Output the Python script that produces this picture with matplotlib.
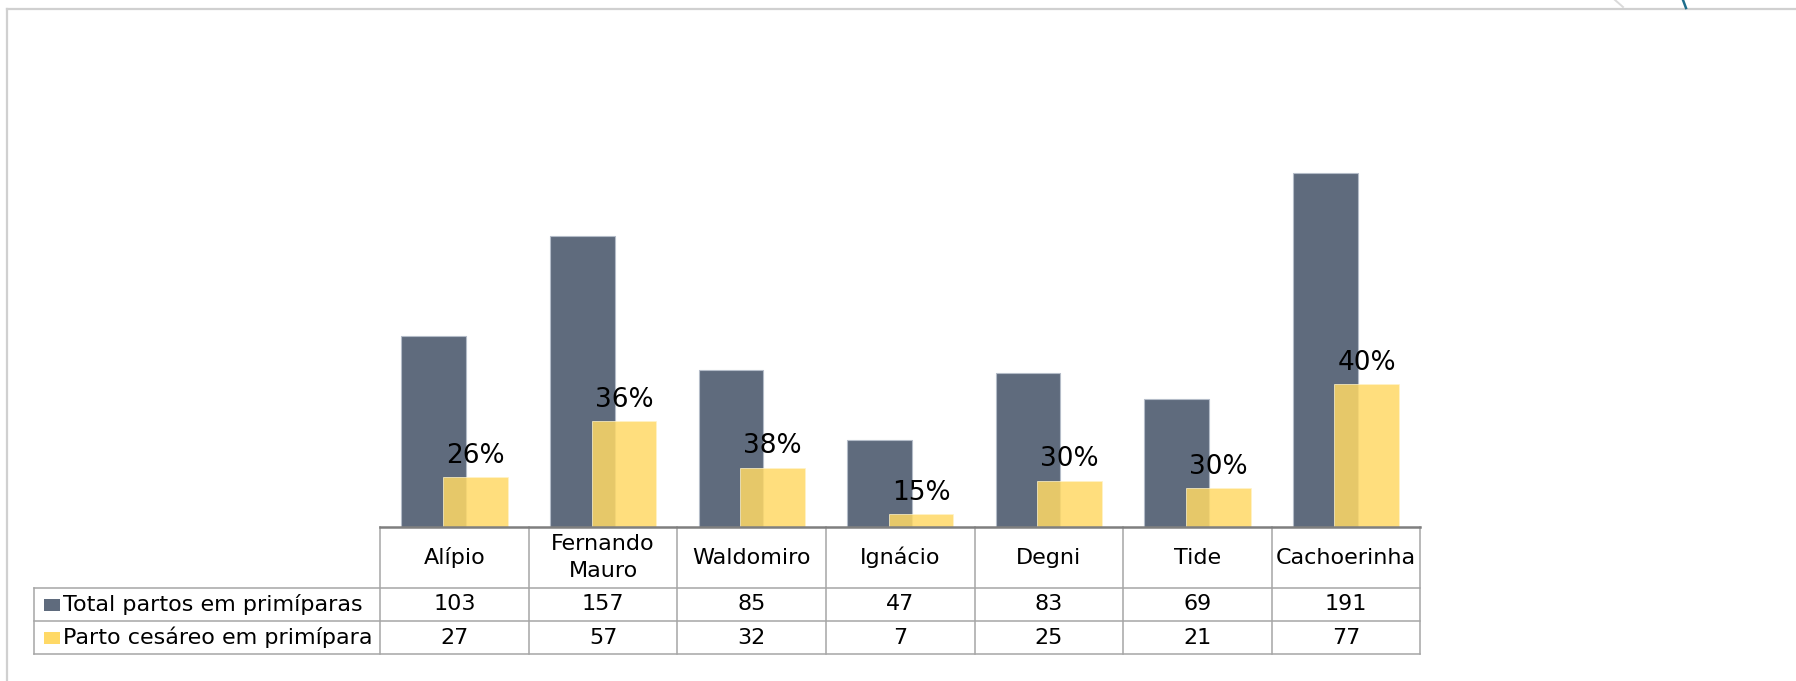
import matplotlib.pyplot as plt
from matplotlib.transforms import blended_transform_factory
from matplotlib.patches import Rectangle

# data
unidades = ['Alípio', 'Fernando\nMauro', 'Waldomiro', 'Ignácio', 'Degni', 'Tide', 'Cachoerinha']
total_partos = [103, 157, 85, 47, 83, 69, 191]
parto_cesareo = [27, 57, 32, 7, 25, 21, 77]
series_names = ['Total partos em primíparas', 'Parto cesáreo em primípara']

cor_total = '#5F6B7D'
cor_cesareo = '#FFD966'

W, H = 1796, 681
fig = plt.figure(figsize=(W / 100, H / 100), dpi=100)
plt.rcParams['font.family'] = ['DejaVu Sans']


def fy(py):
    # pixel row (from top) -> figure fraction
    return 1 - py / H


def fx(px):
    return px / W


ax = fig.add_axes([fx(380.3), fy(527), fx(1420.3) - fx(380.3), fy(64) - fy(527)])
x = list(range(len(unidades)))
ax.bar([i - 0.14 for i in x], total_partos, width=0.435, color=cor_total,
       edgecolor='#B4BCC8', linewidth=0.8, zorder=2)
ax.bar([i + 0.14 for i in x], parto_cesareo, width=0.435, color=cor_cesareo,
       alpha=0.85, edgecolor='#FFF3C8', linewidth=0.6, zorder=3)

for i in x:
    pct = parto_cesareo[i] / total_partos[i] * 100
    ax.annotate('%d%%' % round(pct), (i + 0.14, parto_cesareo[i]),
                xytext=(0, 6), textcoords='offset points',
                ha='center', va='bottom', fontsize=19, color='black', zorder=4)

ax.set_xlim(-0.5, len(unidades) - 0.5)
ax.set_ylim(0, 250)
ax.axis('off')

# table under the chart
tr = blended_transform_factory(ax.transData, fig.transFigure)
line_kw = dict(color='#A6A6A6', lw=1.1, clip_on=False, transform=tr, zorder=5)
n = len(unidades)
y_head_top, y_head_bot, y_r1, y_r2 = 527, 588, 621, 654

for k in range(n + 1):
    ax.plot([k - 0.5, k - 0.5], [fy(y_head_top), fy(y_r2)], **line_kw)

left_frac = fx(34)
for yy in (y_head_bot, y_r1, y_r2):
    fig.add_artist(plt.Line2D([left_frac, fx(1420.3)], [fy(yy), fy(yy)],
                              color='#A6A6A6', lw=1.1))
fig.add_artist(plt.Line2D([left_frac, left_frac], [fy(y_head_bot), fy(y_r2)],
                          color='#A6A6A6', lw=1.1))

# axis base line
ax.plot([-0.5, n - 0.5], [fy(y_head_top), fy(y_head_top)], color='#7F7F7F',
        lw=1.8, clip_on=False, transform=tr, zorder=6)

for i, nome in enumerate(unidades):
    ax.text(i, fy((y_head_top + y_head_bot) / 2), nome, transform=tr,
            ha='center', va='center', fontsize=16, linespacing=1.45)
    ax.text(i, fy((y_head_bot + y_r1) / 2), str(total_partos[i]), transform=tr,
            ha='center', va='center', fontsize=16)
    ax.text(i, fy((y_r1 + y_r2) / 2), str(parto_cesareo[i]), transform=tr,
            ha='center', va='center', fontsize=16)

rows = [(y_head_bot, y_r1, cor_total), (y_r1, y_r2, cor_cesareo)]
for (top, bot, cor), nome in zip(rows, series_names):
    mid = (top + bot) / 2
    fig.add_artist(Rectangle((fx(44), fy(mid + 6)), fx(16), fy(mid - 6) - fy(mid + 6),
                             transform=fig.transFigure, facecolor=cor, edgecolor='none'))
    fig.text(fx(63), fy(mid), nome, ha='left', va='center', fontsize=16)

# slide frame decorations
fig.add_artist(plt.Line2D([fx(7), 1], [fy(9), fy(9)], color='#D0D0D0', lw=1.6))
fig.add_artist(plt.Line2D([fx(7), fx(7)], [fy(9), 0], color='#D0D0D0', lw=1.6))
fig.add_artist(plt.Line2D([fx(1615), fx(1623)], [1, fy(7)], color='#DADADA', lw=1.4))
fig.add_artist(plt.Line2D([fx(1683), fx(1686)], [1, fy(8)], color='#1F6E8C', lw=1.8))

fig.savefig('out.png', dpi=100)
